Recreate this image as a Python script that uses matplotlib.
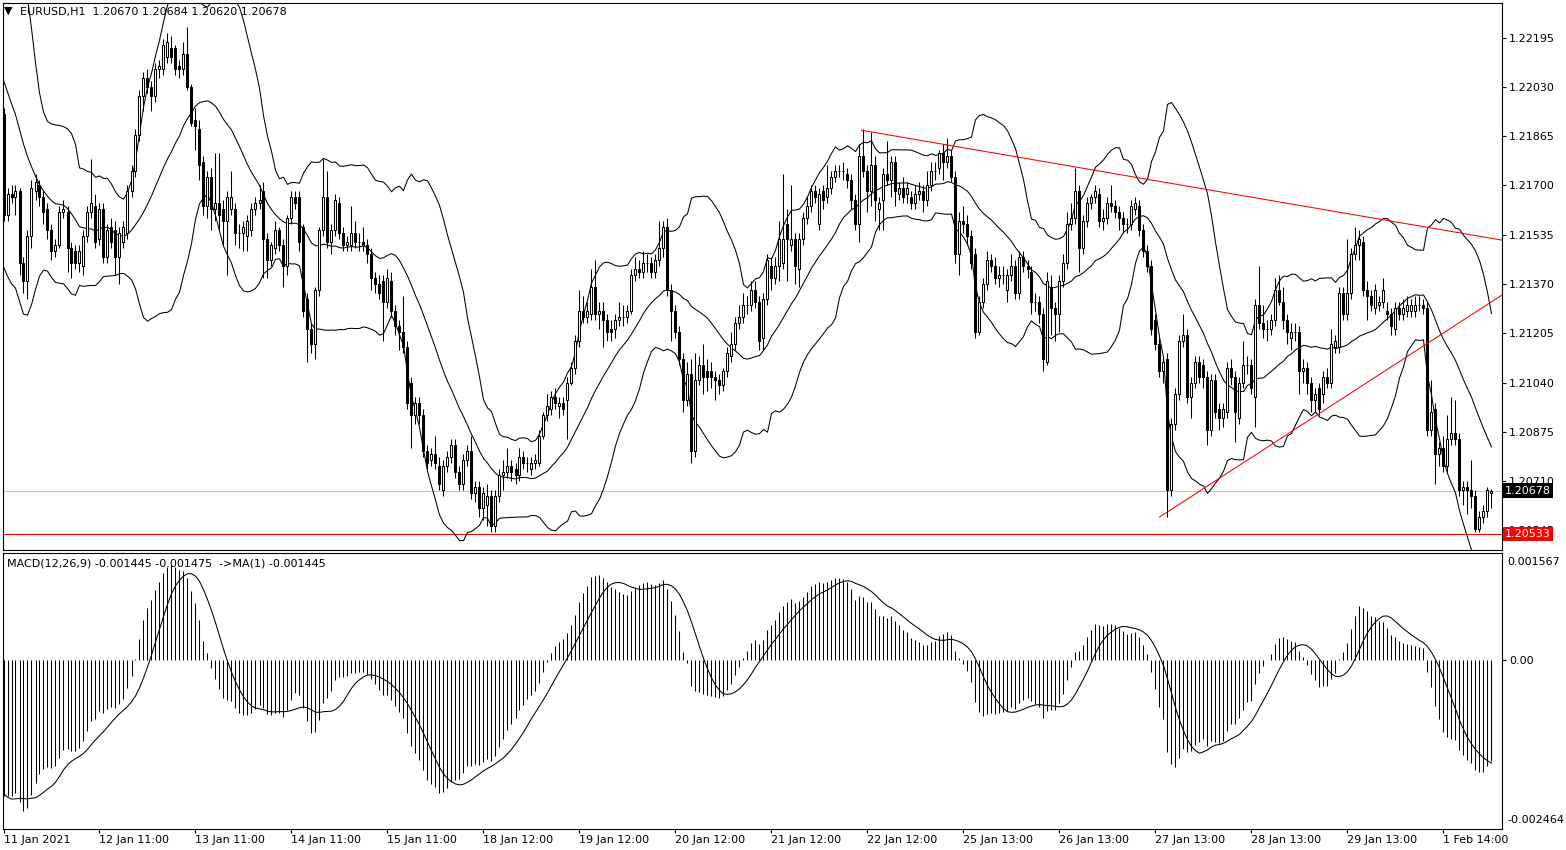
import numpy as np
import pandas as pd
import matplotlib
matplotlib.use('Agg')
import matplotlib.pyplot as plt
from matplotlib.transforms import blended_transform_factory

# EURUSD H1 bars (11 Jan 11:00 -> 2 Feb 02:00)
opens = [
    1.2194, 1.2160, 1.2167, 1.2166, 1.2168, 1.2144, 1.2138, 1.2153, 1.2168, 1.2170,
    1.2166, 1.2162, 1.2155, 1.2148, 1.2150, 1.2161, 1.2161, 1.2149, 1.2148, 1.2144,
    1.2143, 1.2153, 1.2161, 1.2163, 1.2152, 1.2162, 1.2146, 1.2156, 1.2155, 1.2146,
    1.2151, 1.2154, 1.2168, 1.2175, 1.2187, 1.2200, 1.2206, 1.2203, 1.2200, 1.2209,
    1.2209, 1.2213, 1.2216, 1.2216, 1.2210, 1.2209, 1.2214, 1.2203, 1.2192, 1.2189,
    1.2178, 1.2163, 1.2173, 1.2162, 1.2164, 1.2162, 1.2158, 1.2162, 1.2162, 1.2154,
    1.2154, 1.2153, 1.2155, 1.2162, 1.2164, 1.2168, 1.2152, 1.2145, 1.2149, 1.2155,
    1.2150, 1.2143, 1.2159, 1.2166, 1.2166, 1.2156, 1.2132, 1.2122, 1.2117, 1.2135,
    1.2155, 1.2166, 1.2151, 1.2155, 1.2164, 1.2154, 1.2150, 1.2150, 1.2154, 1.2151,
    1.2151, 1.2150, 1.2147, 1.2139, 1.2137, 1.2138, 1.2131, 1.2138, 1.2128, 1.2123,
    1.2121, 1.2116, 1.2104, 1.2093, 1.2097, 1.2093, 1.2081, 1.2078, 1.2080, 1.2076,
    1.2068, 1.2076, 1.2079, 1.2083, 1.2074, 1.2070, 1.2078, 1.2081, 1.2067, 1.2069,
    1.2062, 1.2063, 1.2066, 1.2056, 1.2066, 1.2073, 1.2074, 1.2076, 1.2075, 1.2073,
    1.2079, 1.2077, 1.2075, 1.2077, 1.2077, 1.2086, 1.2093, 1.2095, 1.2099, 1.2096,
    1.2097, 1.2098, 1.2104, 1.2109, 1.2118, 1.2128, 1.2126, 1.2127, 1.2136, 1.2127,
    1.2128, 1.2125, 1.2122, 1.2122, 1.2125, 1.2126, 1.2126, 1.2128, 1.2140, 1.2142,
    1.2141, 1.2144, 1.2144, 1.2141, 1.2145, 1.2149, 1.2156, 1.2135, 1.2128, 1.2121,
    1.2112, 1.2098, 1.2107, 1.2081, 1.2105, 1.2110, 1.2108, 1.2108, 1.2106, 1.2105,
    1.2103, 1.2108, 1.2113, 1.2117, 1.2124, 1.2126, 1.2130, 1.2130, 1.2135, 1.2131,
    1.2119, 1.2132, 1.2143, 1.2139, 1.2143, 1.2144, 1.2157, 1.2150, 1.2152, 1.2142,
    1.2152, 1.2159, 1.2163, 1.2168, 1.2157, 1.2168, 1.2166, 1.2169, 1.2173, 1.2175,
    1.2175, 1.2174, 1.2172, 1.2165, 1.2157, 1.2180, 1.2175, 1.2168, 1.2177, 1.2162,
    1.2165, 1.2174, 1.2172, 1.2178, 1.2167, 1.2169, 1.2167, 1.2166, 1.2164, 1.2167,
    1.2168, 1.2165, 1.2170, 1.2175, 1.2176, 1.2181, 1.2178, 1.2180, 1.2173, 1.2147,
    1.2158, 1.2157, 1.2153, 1.2147, 1.2121, 1.2131, 1.2137, 1.2145, 1.2143, 1.2139,
    1.2140, 1.2135, 1.2140, 1.2143, 1.2134, 1.2146, 1.2143, 1.2141, 1.2131, 1.2131,
    1.2127, 1.2111, 1.2136, 1.2129, 1.2127, 1.2138, 1.2144, 1.2157, 1.2159, 1.2168,
    1.2149, 1.2158, 1.2164, 1.2166, 1.2167, 1.2158, 1.2159, 1.2164, 1.2163, 1.2161,
    1.2159, 1.2157, 1.2157, 1.2162, 1.2163, 1.2155, 1.2148, 1.2143, 1.2125, 1.2117,
    1.2108, 1.2112, 1.2068, 1.2090, 1.2100, 1.2118, 1.2120, 1.2099, 1.2104, 1.2111,
    1.2110, 1.2106, 1.2088, 1.2105, 1.2095, 1.2092, 1.2094, 1.2109, 1.2106, 1.2092,
    1.2104, 1.2110, 1.2110, 1.2099, 1.2130, 1.2124, 1.2122, 1.2122, 1.2125, 1.2135,
    1.2131, 1.2125, 1.2119, 1.2121, 1.2121, 1.2108, 1.2109, 1.2104, 1.2098, 1.2102,
    1.2100, 1.2106, 1.2104, 1.2116, 1.2116, 1.2134, 1.2127, 1.2134, 1.2147, 1.2150,
    1.2151, 1.2135, 1.2133, 1.2129, 1.2130, 1.2131, 1.2128, 1.2127, 1.2122, 1.2129,
    1.2127, 1.2128, 1.2128, 1.2128, 1.2130, 1.2130, 1.2129, 1.2088, 1.2095, 1.2080,
    1.2082, 1.2076, 1.2085, 1.2087, 1.2085, 1.2068, 1.2069, 1.2068, 1.2066, 1.2055,
    1.2059, 1.2061, 1.20670,
]
highs = [
    1.2196, 1.2169, 1.2170, 1.2170, 1.2169, 1.2146, 1.2155, 1.2172, 1.2174, 1.2172,
    1.2168, 1.2164, 1.2157, 1.2152, 1.2163, 1.2165, 1.2163, 1.2151, 1.2150, 1.2150,
    1.2155, 1.2163, 1.2179, 1.2167, 1.2164, 1.2164, 1.2157, 1.2159, 1.2158, 1.2156,
    1.2158, 1.2170, 1.2177, 1.2189, 1.2202, 1.2208, 1.2209, 1.2205, 1.2211, 1.2212,
    1.2219, 1.2221, 1.2220, 1.2217, 1.2212, 1.2218, 1.2223, 1.2204, 1.2196, 1.2192,
    1.2180, 1.2175, 1.2176, 1.2181, 1.2181, 1.2165, 1.2168, 1.2175, 1.2164, 1.2157,
    1.2158, 1.2160, 1.2164, 1.2166, 1.2170, 1.2171, 1.2154, 1.2151, 1.2158, 1.2156,
    1.2152, 1.2160, 1.2168, 1.2168, 1.2168, 1.2157, 1.2134, 1.2124, 1.2136, 1.2156,
    1.2179, 1.2175, 1.2157, 1.2167, 1.2166, 1.2156, 1.2153, 1.2163, 1.2158, 1.2154,
    1.2156, 1.2152, 1.2149, 1.2141, 1.2140, 1.2140, 1.2142, 1.2141, 1.2130, 1.2125,
    1.2133, 1.2118, 1.2106, 1.2099, 1.2099, 1.2095, 1.2083, 1.2082, 1.2086, 1.2079,
    1.2078, 1.2081, 1.2085, 1.2085, 1.2076, 1.2080, 1.2083, 1.2086, 1.2071, 1.2071,
    1.2069, 1.2070, 1.2068, 1.2068, 1.2075, 1.2078, 1.2082, 1.2078, 1.2077, 1.2082,
    1.2081, 1.2079, 1.2079, 1.2080, 1.2088, 1.2094, 1.2100, 1.2101, 1.2102, 1.2099,
    1.2099, 1.2106, 1.2111, 1.2120, 1.2135, 1.2133, 1.2131, 1.2142, 1.2145, 1.2131,
    1.2131, 1.2127, 1.2125, 1.2127, 1.2131, 1.2130, 1.2130, 1.2142, 1.2146, 1.2145,
    1.2148, 1.2147, 1.2146, 1.2147, 1.2158, 1.2158, 1.2159, 1.2137, 1.2130, 1.2123,
    1.2114, 1.2111, 1.2112, 1.2114, 1.2113, 1.2117, 1.2112, 1.2111, 1.2108, 1.2107,
    1.2109, 1.2116, 1.2121, 1.2126, 1.2130, 1.2134, 1.2133, 1.2138, 1.2138, 1.2133,
    1.2134, 1.2147, 1.2146, 1.2146, 1.2158, 1.2174, 1.2162, 1.2170, 1.2154, 1.2154,
    1.2161, 1.2166, 1.2170, 1.2170, 1.2169, 1.2170, 1.2177, 1.2175, 1.2177, 1.2177,
    1.2178, 1.2176, 1.2174, 1.2167, 1.2184, 1.2189, 1.2177, 1.2188, 1.2180, 1.2166,
    1.2176, 1.2185, 1.2180, 1.2180, 1.2171, 1.2173, 1.2171, 1.2168, 1.2170, 1.2171,
    1.2170, 1.2175, 1.2178, 1.2178, 1.2182, 1.2184, 1.2186, 1.2182, 1.2175, 1.2161,
    1.2163, 1.2160, 1.2155, 1.2149, 1.2133, 1.2139, 1.2148, 1.2147, 1.2146, 1.2143,
    1.2143, 1.2142, 1.2147, 1.2145, 1.2148, 1.2148, 1.2145, 1.2143, 1.2134, 1.2133,
    1.2129, 1.2141, 1.2140, 1.2131, 1.2140, 1.2147, 1.2161, 1.2164, 1.2176, 1.2170,
    1.2160, 1.2166, 1.2167, 1.2170, 1.2169, 1.2162, 1.2166, 1.2170, 1.2165, 1.2163,
    1.2161, 1.2159, 1.2165, 1.2166, 1.2165, 1.2157, 1.2150, 1.2145, 1.2127, 1.2119,
    1.2113, 1.2114, 1.2092, 1.2102, 1.2120, 1.2127, 1.2122, 1.2106, 1.2113, 1.2113,
    1.2112, 1.2108, 1.2107, 1.2107, 1.2097, 1.2097, 1.2111, 1.2112, 1.2108, 1.2106,
    1.2118, 1.2113, 1.2112, 1.2132, 1.2143, 1.2130, 1.2125, 1.2127, 1.2139, 1.2140,
    1.2136, 1.2127, 1.2124, 1.2124, 1.2123, 1.2112, 1.2111, 1.2106, 1.2102, 1.2104,
    1.2108, 1.2109, 1.2122, 1.2120, 1.2136, 1.2136, 1.2152, 1.2149, 1.2156, 1.2155,
    1.2153, 1.2138, 1.2135, 1.2137, 1.2133, 1.2139, 1.2131, 1.2129, 1.2131, 1.2131,
    1.2132, 1.2133, 1.2132, 1.2133, 1.2133, 1.2132, 1.2131, 1.2105, 1.2097, 1.2084,
    1.2086, 1.2093, 1.2099, 1.2098, 1.2087, 1.2071, 1.2071, 1.2078, 1.2068, 1.2061,
    1.2063, 1.2069, 1.20684,
]
lows = [
    1.2158, 1.2158, 1.2164, 1.2160, 1.2140, 1.2134, 1.2132, 1.2149, 1.2165, 1.2163,
    1.2157, 1.2152, 1.2145, 1.2146, 1.2149, 1.2159, 1.2141, 1.2139, 1.2142, 1.2141,
    1.2140, 1.2151, 1.2159, 1.2149, 1.2150, 1.2144, 1.2144, 1.2149, 1.2140, 1.2137,
    1.2149, 1.2152, 1.2166, 1.2173, 1.2185, 1.2195, 1.2201, 1.2195, 1.2198, 1.2206,
    1.2207, 1.2211, 1.2211, 1.2207, 1.2206, 1.2207, 1.2202, 1.2190, 1.2182, 1.2172,
    1.2160, 1.2159, 1.2155, 1.2158, 1.2155, 1.2150, 1.2140, 1.2160, 1.2150, 1.2149,
    1.2148, 1.2148, 1.2153, 1.2160, 1.2162, 1.2139, 1.2139, 1.2143, 1.2147, 1.2148,
    1.2136, 1.2140, 1.2157, 1.2162, 1.2148, 1.2126, 1.2111, 1.2114, 1.2112, 1.2133,
    1.2153, 1.2149, 1.2147, 1.2153, 1.2152, 1.2148, 1.2148, 1.2148, 1.2149, 1.2148,
    1.2148, 1.2144, 1.2135, 1.2134, 1.2132, 1.2118, 1.2129, 1.2126, 1.2120, 1.2115,
    1.2114, 1.2095, 1.2082, 1.2090, 1.2090, 1.2079, 1.2075, 1.2076, 1.2075, 1.2068,
    1.2066, 1.2074, 1.2077, 1.2072, 1.2068, 1.2068, 1.2076, 1.2065, 1.2064, 1.2059,
    1.2058, 1.2056, 1.2054, 1.2054, 1.2064, 1.2068, 1.2072, 1.2071, 1.2070, 1.2071,
    1.2075, 1.2074, 1.2073, 1.2075, 1.2076, 1.2085, 1.2091, 1.2093, 1.2095, 1.2092,
    1.2093, 1.2085, 1.2103, 1.2107, 1.2116, 1.2124, 1.2124, 1.2125, 1.2125, 1.2122,
    1.2116, 1.2118, 1.2118, 1.2119, 1.2123, 1.2123, 1.2124, 1.2127, 1.2138, 1.2139,
    1.2139, 1.2141, 1.2139, 1.2139, 1.2143, 1.2146, 1.2133, 1.2118, 1.2119, 1.2110,
    1.2094, 1.2096, 1.2077, 1.2079, 1.2103, 1.2100, 1.2101, 1.2102, 1.2098, 1.2100,
    1.2101, 1.2106, 1.2111, 1.2115, 1.2122, 1.2124, 1.2127, 1.2128, 1.2129, 1.2115,
    1.2115, 1.2130, 1.2135, 1.2137, 1.2138, 1.2142, 1.2138, 1.2148, 1.2137, 1.2136,
    1.2150, 1.2157, 1.2161, 1.2164, 1.2155, 1.2162, 1.2164, 1.2167, 1.2171, 1.2173,
    1.2172, 1.2169, 1.2162, 1.2155, 1.2151, 1.2173, 1.2161, 1.2163, 1.2158, 1.2155,
    1.2155, 1.2170, 1.2166, 1.2163, 1.2165, 1.2164, 1.2164, 1.2162, 1.2162, 1.2165,
    1.2161, 1.2163, 1.2168, 1.2172, 1.2174, 1.2172, 1.2176, 1.2171, 1.2144, 1.2140,
    1.2154, 1.2150, 1.2142, 1.2119, 1.2120, 1.2129, 1.2135, 1.2141, 1.2137, 1.2136,
    1.2137, 1.2131, 1.2138, 1.2132, 1.2132, 1.2141, 1.2139, 1.2127, 1.2128, 1.2124,
    1.2108, 1.2110, 1.2120, 1.2118, 1.2121, 1.2136, 1.2142, 1.2155, 1.2157, 1.2141,
    1.2147, 1.2156, 1.2162, 1.2164, 1.2156, 1.2155, 1.2157, 1.2161, 1.2159, 1.2155,
    1.2154, 1.2154, 1.2155, 1.2160, 1.2153, 1.2146, 1.2141, 1.2120, 1.2115, 1.2106,
    1.2104, 1.2059, 1.2066, 1.2088, 1.2098, 1.2116, 1.2097, 1.2092, 1.2102, 1.2104,
    1.2102, 1.2083, 1.2086, 1.2092, 1.2088, 1.2089, 1.2092, 1.2103, 1.2084, 1.2090,
    1.2102, 1.2107, 1.2100, 1.2089, 1.2122, 1.2119, 1.2118, 1.2120, 1.2123, 1.2130,
    1.2122, 1.2117, 1.2115, 1.2118, 1.2100, 1.2104, 1.2100, 1.2094, 1.2094, 1.2093,
    1.2097, 1.2102, 1.2102, 1.2114, 1.2114, 1.2125, 1.2125, 1.2132, 1.2145, 1.2145,
    1.2133, 1.2125, 1.2128, 1.2127, 1.2128, 1.2129, 1.2125, 1.2120, 1.2120, 1.2125,
    1.2125, 1.2126, 1.2126, 1.2126, 1.2128, 1.2127, 1.2086, 1.2086, 1.2070, 1.2076,
    1.2074, 1.2074, 1.2083, 1.2083, 1.2066, 1.2063, 1.2060, 1.2062, 1.2054, 1.2054,
    1.2057, 1.2059, 1.20620,
]
closes = [
    1.2160, 1.2167, 1.2166, 1.2168, 1.2144, 1.2138, 1.2153, 1.2169, 1.2171, 1.2166,
    1.2161, 1.2155, 1.2148, 1.2150, 1.2161, 1.2162, 1.2149, 1.2144, 1.2144, 1.2148,
    1.2153, 1.2161, 1.2164, 1.2151, 1.2162, 1.2146, 1.2155, 1.2151, 1.2146, 1.2154,
    1.2156, 1.2168, 1.2175, 1.2187, 1.2200, 1.2206, 1.2203, 1.2200, 1.2209, 1.2210,
    1.2217, 1.2218, 1.2213, 1.2209, 1.2209, 1.2214, 1.2203, 1.2191, 1.2190, 1.2177,
    1.2163, 1.2173, 1.2162, 1.2164, 1.2160, 1.2158, 1.2166, 1.2166, 1.2154, 1.2154,
    1.2156, 1.2158, 1.2162, 1.2164, 1.2165, 1.2152, 1.2145, 1.2150, 1.2155, 1.2150,
    1.2143, 1.2159, 1.2166, 1.2164, 1.2151, 1.2128, 1.2122, 1.2117, 1.2135, 1.2155,
    1.2166, 1.2151, 1.2155, 1.2165, 1.2154, 1.2150, 1.2151, 1.2154, 1.2151, 1.2151,
    1.2150, 1.2147, 1.2139, 1.2137, 1.2134, 1.2131, 1.2139, 1.2128, 1.2123, 1.2121,
    1.2116, 1.2097, 1.2093, 1.2097, 1.2093, 1.2081, 1.2077, 1.2080, 1.2077, 1.2070,
    1.2076, 1.2079, 1.2083, 1.2074, 1.2070, 1.2078, 1.2081, 1.2067, 1.2069, 1.2062,
    1.2067, 1.2066, 1.2056, 1.2066, 1.2073, 1.2074, 1.2076, 1.2074, 1.2073, 1.2079,
    1.2077, 1.2077, 1.2077, 1.2078, 1.2086, 1.2093, 1.2096, 1.2099, 1.2097, 1.2097,
    1.2095, 1.2104, 1.2109, 1.2118, 1.2128, 1.2126, 1.2128, 1.2136, 1.2127, 1.2128,
    1.2125, 1.2121, 1.2121, 1.2125, 1.2126, 1.2126, 1.2128, 1.2140, 1.2142, 1.2141,
    1.2144, 1.2144, 1.2141, 1.2145, 1.2149, 1.2156, 1.2135, 1.2128, 1.2121, 1.2112,
    1.2098, 1.2107, 1.2081, 1.2105, 1.2110, 1.2106, 1.2106, 1.2106, 1.2105, 1.2103,
    1.2108, 1.2114, 1.2117, 1.2124, 1.2126, 1.2130, 1.2130, 1.2135, 1.2131, 1.2118,
    1.2132, 1.2145, 1.2139, 1.2143, 1.2152, 1.2152, 1.2152, 1.2152, 1.2143, 1.2152,
    1.2159, 1.2163, 1.2168, 1.2166, 1.2167, 1.2165, 1.2169, 1.2173, 1.2175, 1.2175,
    1.2175, 1.2172, 1.2165, 1.2157, 1.2180, 1.2175, 1.2168, 1.2177, 1.2165, 1.2164,
    1.2174, 1.2172, 1.2178, 1.2168, 1.2169, 1.2166, 1.2169, 1.2164, 1.2167, 1.2168,
    1.2165, 1.2170, 1.2175, 1.2175, 1.2181, 1.2178, 1.2180, 1.2173, 1.2147, 1.2158,
    1.2157, 1.2153, 1.2144, 1.2121, 1.2131, 1.2137, 1.2145, 1.2143, 1.2139, 1.2140,
    1.2140, 1.2140, 1.2143, 1.2134, 1.2146, 1.2143, 1.2142, 1.2131, 1.2131, 1.2127,
    1.2112, 1.2138, 1.2129, 1.2127, 1.2138, 1.2144, 1.2157, 1.2159, 1.2168, 1.2149,
    1.2158, 1.2164, 1.2166, 1.2168, 1.2158, 1.2159, 1.2164, 1.2163, 1.2161, 1.2159,
    1.2157, 1.2157, 1.2163, 1.2164, 1.2155, 1.2148, 1.2143, 1.2122, 1.2117, 1.2108,
    1.2111, 1.2068, 1.2090, 1.2100, 1.2118, 1.2120, 1.2099, 1.2104, 1.2111, 1.2106,
    1.2106, 1.2088, 1.2105, 1.2094, 1.2092, 1.2095, 1.2109, 1.2106, 1.2094, 1.2104,
    1.2110, 1.2110, 1.2102, 1.2130, 1.2124, 1.2122, 1.2122, 1.2125, 1.2135, 1.2131,
    1.2125, 1.2121, 1.2121, 1.2121, 1.2108, 1.2109, 1.2104, 1.2098, 1.2100, 1.2095,
    1.2106, 1.2104, 1.2117, 1.2118, 1.2134, 1.2127, 1.2134, 1.2147, 1.2150, 1.2152,
    1.2135, 1.2133, 1.2130, 1.2135, 1.2131, 1.2135, 1.2127, 1.2123, 1.2129, 1.2127,
    1.2129, 1.2130, 1.2130, 1.2130, 1.2130, 1.2129, 1.2088, 1.2094, 1.2080, 1.2082,
    1.2076, 1.2085, 1.2087, 1.2085, 1.2068, 1.2069, 1.2068, 1.2066, 1.2055, 1.2059,
    1.2061, 1.2068, 1.20678,
]
# closes of the bars just left of the window, only used to start the bands and MACD
pre_closes = [
    1.2262, 1.2258, 1.2255, 1.2260, 1.2262, 1.2257, 1.2259, 1.2254, 1.2256, 1.2252,
    1.2255, 1.2250, 1.2253, 1.2249, 1.2251, 1.2247, 1.2249, 1.2245, 1.2247, 1.2244,
    1.2243, 1.2246, 1.2243, 1.2241, 1.2242, 1.2238, 1.2236, 1.2237, 1.2234, 1.2222,
    1.2205, 1.2190, 1.2178, 1.2170, 1.2165, 1.2168, 1.2172, 1.2178, 1.2185, 1.2194,
]

time_labels = ['11 Jan 2021', '12 Jan 11:00', '13 Jan 11:00', '14 Jan 11:00', '15 Jan 11:00',
               '18 Jan 12:00', '19 Jan 12:00', '20 Jan 12:00', '21 Jan 12:00', '22 Jan 12:00',
               '25 Jan 13:00', '26 Jan 13:00', '27 Jan 13:00', '28 Jan 13:00', '29 Jan 13:00',
               '1 Feb 14:00']
label_bars = [0, 24, 48, 72, 96, 120, 144, 168, 192, 216, 240, 264, 288, 312, 336, 360]
price_ticks = [1.22195, 1.22030, 1.21865, 1.21700, 1.21535, 1.21370, 1.21205,
               1.21040, 1.20875, 1.20710, 1.20545]
bid_price = 1.20678
level_price = 1.20533
# trend lines: (bar, price) start and end points
trend_down = [(214.5, 1.21885), (374.6, 1.21517)]
trend_up = [(289.0, 1.20589), (374.6, 1.21333)]
macd_max, macd_min = 0.001567, -0.002464

assert len(opens) == len(highs) == len(lows) == len(closes)

W, H = 1566, 850
plt.rcParams['font.family'] = ['DejaVu Sans']
fig = plt.figure(figsize=(W / 100, H / 100), dpi=100)
fig.patch.set_facecolor('white')
ax = fig.add_axes([3 / W, 1 - 550 / H, 1499 / W, 547 / H])
ax2 = fig.add_axes([3 / W, 1 - 829 / H, 1499 / W, 276 / H])

n = len(closes)
x = np.arange(n)
o = np.array(opens)
h = np.array(highs)
l = np.array(lows)
c = np.array(closes)

# indicators: Bollinger(20, 2) and MACD(12, 26, 9)
full = pd.Series(pre_closes + closes)
npre = len(pre_closes)
mid = full.rolling(20).mean().values[npre:]
sd = full.rolling(20).std(ddof=0).values[npre:]
upper = mid + 2 * sd
lower = mid - 2 * sd
macd = (full.ewm(span=12, adjust=False).mean() - full.ewm(span=26, adjust=False).mean())
signal = macd.rolling(9).mean()
macd = macd.values[npre:]
signal = signal.values[npre:]

lw = 0.75
# candles
ax.vlines(x, l, h, color='black', lw=lw, zorder=2)
up = c >= o
ax.bar(x[up], c[up] - o[up], bottom=o[up], width=0.5, facecolor='white',
       edgecolor='black', linewidth=lw, zorder=3)
ax.bar(x[~up], o[~up] - c[~up], bottom=c[~up], width=0.5, facecolor='black',
       edgecolor='black', linewidth=lw, zorder=3)

for band in (upper, mid, lower):
    ax.plot(x, band, color='black', lw=lw, zorder=2)

ax.axhline(bid_price, color='#c0c0c0', lw=lw, zorder=1)
ax.axhline(level_price, color='#ff0000', lw=lw, zorder=1)
for line in (trend_down, trend_up):
    ax.plot([line[0][0], line[1][0]], [line[0][1], line[1][1]], color='#ff0000', lw=lw, zorder=4)

ax.set_xlim(-0.125, 374.625)
ax.set_ylim(1.204789, 1.223113)
ax.yaxis.tick_right()
ax.set_yticks(price_ticks)
ax.set_yticklabels([f'{p:.5f}' for p in price_ticks])
ax.tick_params(axis='y', length=3, width=0.8, pad=2, labelsize=8)
ax.tick_params(axis='x', bottom=False, labelbottom=False)

# price boxes on the scale (they sit over the 1.20710 / 1.20545 labels, as in MT4)
tr = blended_transform_factory(ax.transAxes, ax.transData)
box_x = (1505 - 3) / 1499
ax.text(box_x, bid_price, f'{bid_price:.5f}', transform=tr, ha='left', va='center',
        fontsize=8, color='white', zorder=10, clip_on=False,
        bbox=dict(facecolor='black', edgecolor='none', pad=1.6))
ax.text(box_x, level_price, f'{level_price:.5f}', transform=tr, ha='left', va='center',
        fontsize=8, color='white', zorder=10, clip_on=False,
        bbox=dict(facecolor='#ff0000', edgecolor='none', pad=1.6))

# MACD window
ax2.vlines(x, 0, macd, color='black', lw=lw)
ax2.plot(x, signal, color='black', lw=lw)
ax2.set_xlim(-0.125, 374.625)
ax2.set_ylim(macd_min, macd_max)
ax2.yaxis.tick_right()
ax2.set_yticks([0])
ax2.set_yticklabels(['0.00'])
ax2.tick_params(axis='y', length=3, width=0.8, pad=2, labelsize=8)
tr2 = blended_transform_factory(ax2.transAxes, ax2.transAxes)
ax2.text((1507 - 3) / 1499, 1 - 4 / 276, f'{macd_max:.6f}', transform=tr2, ha='left',
         va='top', fontsize=8, clip_on=False)
ax2.text((1507 - 3) / 1499, 4 / 276, f'{macd_min:.6f}', transform=tr2, ha='left',
         va='bottom', fontsize=8, clip_on=False)
ax2.set_xticks(label_bars)
ax2.set_xticklabels(time_labels, ha='left')
ax2.tick_params(axis='x', length=3, width=0.8, pad=1, labelsize=8)

for a in (ax, ax2):
    for s in a.spines.values():
        s.set_linewidth(0.8)
        s.set_color('black')

fig.text(4 / W, 1 - 11 / H, '\u25bc', fontsize=8, va='center', ha='left')
fig.text(20 / W, 1 - 12 / H, 'EURUSD,H1  1.20670 1.20684 1.20620 1.20678',
         fontsize=8, va='center', ha='left')
fig.text(7 / W, 1 - 564 / H, 'MACD(12,26,9) -0.001445 -0.001475  ->MA(1) -0.001445',
         fontsize=8, va='center', ha='left')

fig.savefig('out.png', dpi=100, facecolor='white')
